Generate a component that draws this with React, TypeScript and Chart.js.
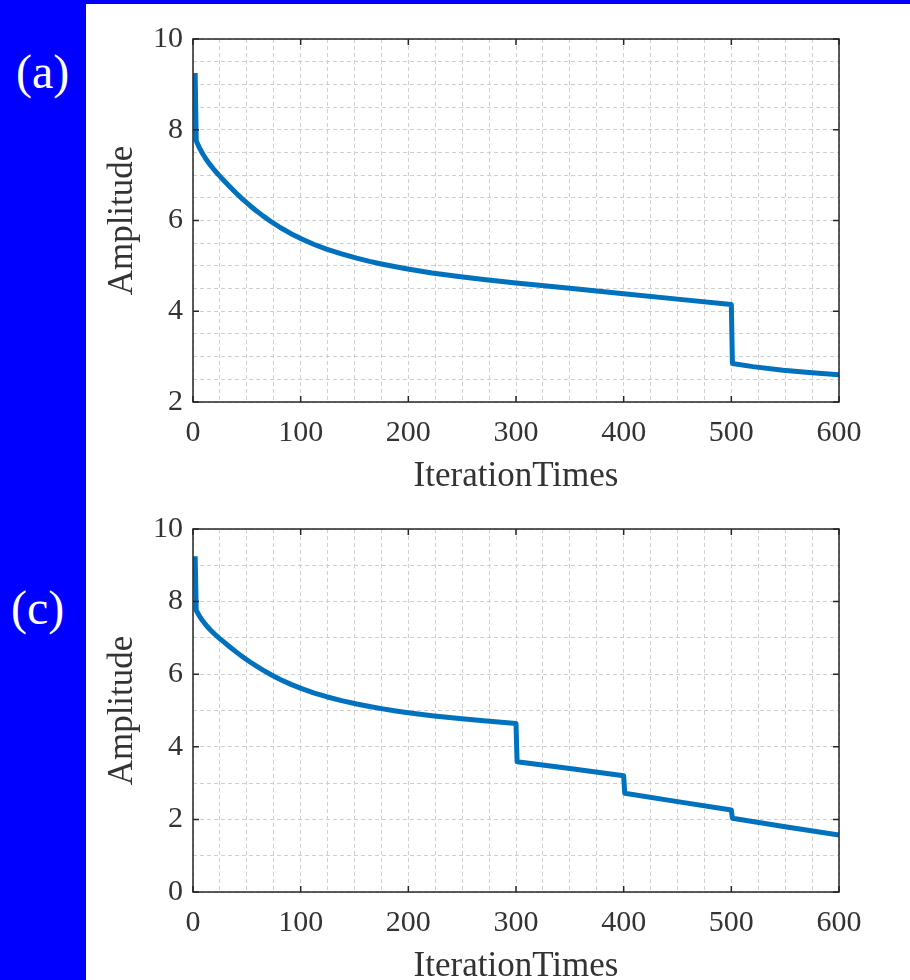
import React, { useEffect, useRef } from "react";
import { Chart, registerables } from "chart.js";

Chart.register(...registerables);

// ---- data ----
const iterA = [2, 3, 4, 6, 9, 12, 16, 20, 24, 28, 34, 40, 46, 53, 59, 65, 73, 81, 91, 101, 112, 124, 138, 152, 164, 175, 187, 198, 222, 245, 270, 300, 350, 400, 450, 500, 501, 520, 548, 575, 600];
const ampA = [9.25, 7.76, 7.705, 7.6, 7.47, 7.355, 7.225, 7.107, 7.0, 6.9, 6.75, 6.606, 6.471, 6.326, 6.21, 6.102, 5.968, 5.846, 5.71, 5.591, 5.477, 5.37, 5.263, 5.17, 5.1, 5.042, 4.985, 4.937, 4.845, 4.772, 4.702, 4.625, 4.505, 4.385, 4.267, 4.15, 2.85, 2.78, 2.7, 2.645, 2.6];

const iterC = [2, 3, 4, 6, 9, 12, 16, 20, 24, 28, 34, 40, 46, 53, 59, 65, 73, 81, 91, 101, 112, 124, 138, 152, 164, 175, 187, 198, 222, 245, 270, 300, 301, 350, 400, 401, 450, 500, 501, 550, 600];
const ampC = [9.25, 7.76, 7.705, 7.6, 7.47, 7.355, 7.225, 7.107, 7.0, 6.905, 6.757, 6.615, 6.481, 6.336, 6.22, 6.112, 5.978, 5.856, 5.72, 5.601, 5.487, 5.38, 5.273, 5.18, 5.11, 5.052, 4.995, 4.947, 4.857, 4.785, 4.717, 4.645, 3.59, 3.4, 3.2, 2.72, 2.49, 2.26, 2.03, 1.8, 1.57];

const xMajor = [0, 100, 200, 300, 400, 500, 600];
const yMajorA = [2, 4, 6, 8, 10];
const yMajorC = [0, 2, 4, 6, 8, 10];
const panelLabels = ["(a)", "(c)"];
const xTitle = "IterationTimes";
const yTitle = "Amplitude";

const FONT = '"Liberation Serif", "Times New Roman", serif';
const AXIS_COLOR = "#262626";
const TEXT_COLOR = "#333333";
const GRID_COLOR = "#cfcfcf";
const LINE_COLOR = "#0072BD";

function boxPlugin(xm: number[], ym: number[]) {
  return {
    id: "boxTicks",
    afterDraw(chart: any) {
      const { ctx, chartArea } = chart;
      const { left, top, right, bottom } = chartArea;
      const xs = chart.scales.x;
      const ys = chart.scales.y;
      ctx.save();
      ctx.strokeStyle = AXIS_COLOR;
      ctx.lineWidth = 1.5;
      ctx.strokeRect(left, top, right - left, bottom - top);
      const L = 6;
      ctx.beginPath();
      xm.forEach((v) => {
        const p = xs.getPixelForValue(v);
        ctx.moveTo(p, bottom);
        ctx.lineTo(p, bottom - L);
        ctx.moveTo(p, top);
        ctx.lineTo(p, top + L);
      });
      ym.forEach((v) => {
        const p = ys.getPixelForValue(v);
        ctx.moveTo(left, p);
        ctx.lineTo(left + L, p);
        ctx.moveTo(right, p);
        ctx.lineTo(right - L, p);
      });
      ctx.stroke();
      ctx.restore();
    },
  };
}

type PanelProps = {
  top: number;
  height: number;
  plotTop: number;
  axisH: number;
  xs: number[];
  ys: number[];
  yMin: number;
  yMax: number;
  yStep: number;
  yMajor: number[];
};

function Panel(props: PanelProps) {
  const ref = useRef<HTMLCanvasElement | null>(null);
  const { top, height, plotTop, axisH, xs, ys, yMin, yMax, yStep, yMajor } = props;
  useEffect(() => {
    if (!ref.current) return;
    const chart = new Chart(ref.current, {
      type: "line",
      data: {
        datasets: [
          {
            data: xs.map((x, i) => ({ x, y: ys[i] })),
            borderColor: LINE_COLOR,
            borderWidth: 5,
            pointRadius: 0,
            tension: 0,
            borderJoinStyle: "round",
            fill: false,
            clip: 0,
          } as any,
        ],
      },
      options: {
        responsive: false,
        animation: false,
        devicePixelRatio: 1,
        layout: { padding: { top: plotTop, right: 71, left: 0, bottom: 0 } },
        plugins: { legend: { display: false }, tooltip: { enabled: false } },
        scales: {
          x: {
            type: "linear",
            min: 0,
            max: 600,
            afterFit: (s: any) => {
              s.height = axisH;
              s.paddingLeft = 0;
              s.paddingRight = 0;
            },
            ticks: {
              stepSize: 25,
              autoSkip: false,
              maxRotation: 0,
              padding: 13,
              color: TEXT_COLOR,
              font: { family: FONT, size: 30 },
              callback: (v: any) => (xMajor.includes(Number(v)) ? String(v) : ""),
            },
            grid: { color: GRID_COLOR, lineWidth: 1, drawTicks: false },
            border: { display: false, dash: [4, 3] },
            title: {
              display: true,
              text: xTitle,
              color: TEXT_COLOR,
              font: { family: FONT, size: 35, lineHeight: 1 },
              padding: { top: 0, bottom: 4 },
            },
          },
          y: {
            type: "linear",
            min: yMin,
            max: yMax,
            afterFit: (s: any) => {
              s.width = 107;
              s.paddingTop = 0;
              s.paddingBottom = 0;
            },
            ticks: {
              stepSize: yStep,
              autoSkip: false,
              padding: 10,
              color: TEXT_COLOR,
              font: { family: FONT, size: 30 },
              callback: (v: any) => (yMajor.includes(Number(v)) ? String(v) : ""),
            },
            grid: { color: GRID_COLOR, lineWidth: 1, drawTicks: false },
            border: { display: false, dash: [4, 3] },
            title: {
              display: true,
              text: yTitle,
              color: TEXT_COLOR,
              font: { family: FONT, size: 35, lineHeight: 1 },
              padding: { top: 19, bottom: 0 },
            },
          },
        },
      },
      plugins: [boxPlugin(xMajor, yMajor)],
    } as any);
    return () => chart.destroy();
  }, []);
  return (
    <canvas
      ref={ref}
      width={824}
      height={height}
      style={{ position: "absolute", left: 86, top, width: 824, height }}
    />
  );
}

export default function App() {
  const labelStyle = {
    position: "absolute" as const,
    color: "#ffffff",
    fontFamily: FONT,
    fontSize: 48,
    lineHeight: 1,
    whiteSpace: "nowrap" as const,
  };
  return (
    <div
      style={{
        position: "fixed",
        left: 0,
        top: 0,
        width: 910,
        height: 980,
        overflow: "hidden",
        background: "#0000ff",
      }}
    >
      <div style={{ position: "absolute", left: 86, top: 4, width: 824, height: 976, background: "#ffffff" }} />
      <div style={{ ...labelStyle, left: 16, top: 48 }}>{panelLabels[0]}</div>
      <div style={{ ...labelStyle, left: 11, top: 584 }}>{panelLabels[1]}</div>
      <Panel top={4} height={494} plotTop={35} axisH={96} xs={iterA} ys={ampA} yMin={2} yMax={10} yStep={0.5} yMajor={yMajorA} />
      <Panel top={498} height={490} plotTop={31} axisH={96} xs={iterC} ys={ampC} yMin={0} yMax={10} yStep={1} yMajor={yMajorC} />
    </div>
  );
}
